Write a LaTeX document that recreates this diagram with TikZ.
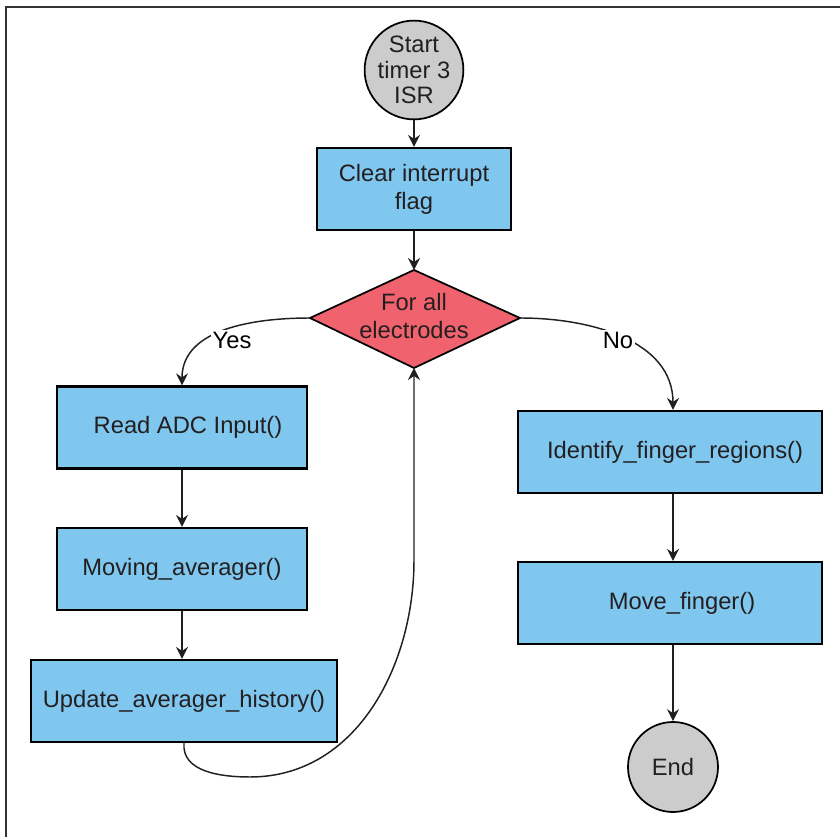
\documentclass[tikz,border=0pt]{standalone}
\usepackage{fontspec}
\setmainfont{Liberation Sans}
\usetikzlibrary{arrows.meta}
\definecolor{boxblue}{HTML}{7FC7EE}
\definecolor{diared}{HTML}{F0636E}
\definecolor{circgray}{HTML}{CCCCCC}
\definecolor{txt}{HTML}{231F20}
\definecolor{framegray}{HTML}{333333}
\begin{document}
\begin{tikzpicture}[x=0.75pt,y=-0.75pt,
  proc/.style={draw=black, line width=1.6pt, fill=boxblue, minimum height=61.5pt, inner sep=0pt, align=center, text=txt, font=\fontsize{17.8}{21}\selectfont},
  term/.style={circle, draw=black, line width=1.3pt, fill=circgray, minimum size=67.5pt, inner sep=0pt, align=center, text=txt, font=\fontsize{17.8}{19}\selectfont},
  conn/.style={draw=txt, line width=1.1pt, -{Stealth[length=9pt,width=9pt,inset=3pt]}},
  lbl/.style={fill=white, inner sep=1.5pt, text=black, font=\fontsize{17.8}{21}\selectfont},
  dtext/.style={inner sep=0pt, align=center, text=txt, font=\fontsize{17.8}{21}\selectfont}
]
\useasboundingbox (0,0) rectangle (840,837);
\draw[line width=2.2pt, framegray] (6,837) -- (6,7) -- (840,7);

\node[term] (start) at (414,70) {Start\\timer 3\\ISR};
\node[proc, minimum width=145.5pt] (clear) at (414,189) {Clear interrupt\\flag};

\coordinate (dtop) at (414,270);
\coordinate (dbot) at (414,368);
\coordinate (dleft) at (310,318);
\coordinate (dright) at (520,318);
\filldraw[fill=diared, draw=black, line width=1.3pt, line join=miter] (dtop) -- (dright) -- (dbot) -- (dleft) -- cycle;
\node[dtext] (dia) at (414,316) {For all\\electrodes};

\node[proc, minimum width=187.5pt] (read) at (182,427.5) {\hspace*{9pt}Read ADC Input()};
\node[proc, minimum width=187.5pt] (moving) at (182,569) {Moving\_averager()};
\node[proc, minimum width=229.5pt] (update) at (184,701) {Update\_averager\_history()};

\node[proc, minimum width=228pt] (ident) at (670,452) {\hspace*{7.5pt}Identify\_finger\_regions()};
\node[proc, minimum width=228pt] (move) at (670,603) {\hspace*{18pt}Move\_finger()};
\node[term] (end) at (673,767) {End};

\draw[conn] (start) -- (clear);
\draw[conn] (clear) -- (dtop);
\draw[conn] (dleft) to[out=180,in=90] (read.north);
\node[lbl] (yes) at (232,340) {Yes};
\draw[conn] (dright) to[out=0,in=90] (ident.north -| end);
\node[lbl] (no) at (618,340) {No};
\draw[conn] (read) -- (moving);
\draw[conn] (moving.south) -- (moving.south |- update.north);
\draw[conn] (update.south) to[out=-95,in=180] (250,777) to[out=0,in=-90] (414,560) -- (dbot);
\draw[conn] (ident.south -| end) -- (move.north -| end);
\draw[conn] (move.south -| end) -- (end);
\end{tikzpicture}
\end{document}
